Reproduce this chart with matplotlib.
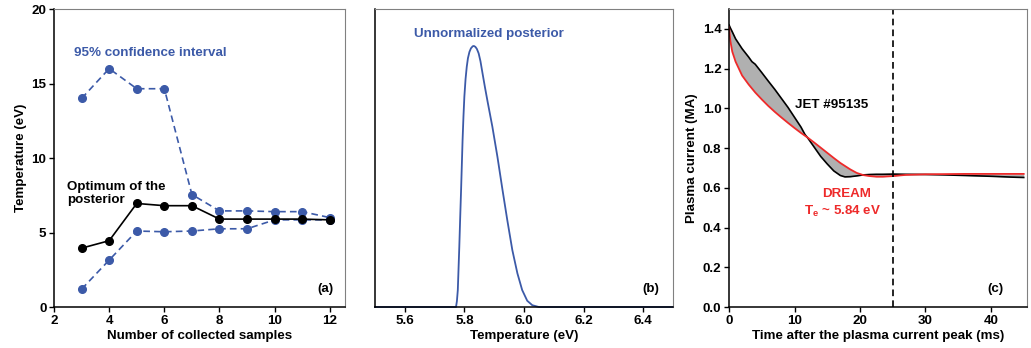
import numpy as np
import matplotlib
matplotlib.use("Agg")
import matplotlib.pyplot as plt

# =========================
# DADOS
# =========================
n_samples = [3, 4, 5, 6, 7, 8, 9, 10, 11, 12]
ci_upper = [14.0, 16.0, 14.65, 14.65, 7.55, 6.45, 6.45, 6.4, 6.4, 6.0]
optimum = [3.95, 4.45, 6.95, 6.8, 6.8, 5.9, 5.9, 5.9, 5.9, 5.85]
ci_lower = [1.2, 3.15, 5.1, 5.05, 5.1, 5.25, 5.25, 5.85, 5.85, 5.85]

# posterior (unidades arbitrárias)
temp_post = [5.5, 5.772, 5.775, 5.778, 5.783, 5.786, 5.789, 5.794, 5.797, 5.800,
             5.804, 5.808, 5.812, 5.817, 5.822, 5.828, 5.832, 5.837, 5.842,
             5.848, 5.854, 5.861, 5.869, 5.878, 5.894, 5.911, 5.928, 5.944,
             5.961, 5.978, 5.994, 6.011, 6.028, 6.05, 6.5]
posterior = [0.0, 0.0, 0.02, 0.057, 0.202, 0.30, 0.393, 0.56, 0.64, 0.706,
             0.765, 0.806, 0.835, 0.856, 0.868, 0.875, 0.876, 0.873, 0.866,
             0.851, 0.825, 0.784, 0.738, 0.689, 0.605, 0.504, 0.393, 0.292,
             0.191, 0.113, 0.057, 0.021, 0.006, 0.0, 0.0]

# corrente de plasma
t_ms = [0, 0.2, 0.5, 1, 2, 3, 3.5, 4, 5, 6, 7, 8, 9, 10, 11, 11.6, 12, 13, 14,
        15, 16, 17, 17.7, 18.5, 19.5, 20.5, 21.5, 22.5, 23.5, 25, 27, 30, 33,
        36, 40, 43, 45]
ip_jet = [1.42, 1.405, 1.385, 1.35, 1.30, 1.258, 1.235, 1.222, 1.18, 1.137,
          1.095, 1.05, 1.005, 0.955, 0.905, 0.868, 0.852, 0.805, 0.758, 0.72,
          0.685, 0.662, 0.655, 0.656, 0.66, 0.665, 0.667, 0.668, 0.668, 0.669,
          0.668, 0.667, 0.665, 0.662, 0.658, 0.654, 0.652]
ip_dream = [1.41, 1.34, 1.285, 1.235, 1.165, 1.12, 1.10, 1.08, 1.045, 1.012,
            0.982, 0.954, 0.927, 0.901, 0.876, 0.862, 0.853, 0.828, 0.802, 0.776,
            0.75, 0.725, 0.71, 0.693, 0.675, 0.664, 0.659, 0.656, 0.656, 0.659,
            0.665, 0.668, 0.669, 0.67, 0.67, 0.67, 0.67]
t_peak_line = 25

# =========================
# ESTILO
# =========================
FS = 9.6
plt.rcParams.update({
    "font.family": "Liberation Sans",
    "font.weight": "bold",
    "font.size": FS,
    "axes.labelweight": "bold",
    "axes.labelsize": FS,
    "xtick.labelsize": FS,
    "ytick.labelsize": FS,
    "mathtext.fontset": "custom",
    "mathtext.rm": "Liberation Sans:bold",
    "mathtext.bf": "Liberation Sans:bold",
    "mathtext.default": "bf",
})

BLUE = "#3c5aa8"
RED = "#ee2a2a"
GRAY_SPINE = "#808080"

fig = plt.figure(figsize=(10.31, 3.48), dpi=100)
ax_a = fig.add_axes([0.0524, 0.1178, 0.2822, 0.8563])
ax_b = fig.add_axes([0.3637, 0.1178, 0.2890, 0.8563])
ax_c = fig.add_axes([0.7071, 0.1178, 0.2890, 0.8563])

for ax in (ax_a, ax_b, ax_c):
    ax.spines["top"].set_color(GRAY_SPINE)
    ax.spines["right"].set_color(GRAY_SPINE)
    ax.tick_params(direction="out", length=3.5, width=1, pad=2)
    for s in ("left", "bottom"):
        ax.spines[s].set_linewidth(1.1)

# =========================
# (a)
# =========================
ax_a.plot(n_samples, ci_upper, "--o", color=BLUE, lw=1.2, ms=5.5, dashes=(4, 2.5))
ax_a.plot(n_samples, ci_lower, "--o", color=BLUE, lw=1.2, ms=5.5, dashes=(4, 2.5))
ax_a.plot(n_samples, optimum, "-o", color="black", lw=1.2, ms=5.5)
ax_a.set_xlim(2, 12.55)
ax_a.set_ylim(0, 20)
ax_a.set_xticks(np.arange(2, 13, 2))
ax_a.set_yticks(np.arange(0, 21, 5))
ax_a.set_xlabel("Number of collected samples", labelpad=2.5)
ax_a.set_ylabel("Temperature (eV)", labelpad=3)
ax_a.text(2.72, 17.07, "95% confidence interval", color=BLUE, fontweight="bold",
          va="center", ha="left")
ax_a.text(2.46, 7.6, "Optimum of the\nposterior", color="black", fontweight="bold",
          va="center", ha="left", linespacing=1.15)
ax_a.text(0.959, 0.06, "(a)", transform=ax_a.transAxes, ha="right", va="center",
          fontweight="bold")

# =========================
# (b)
# =========================
ax_b.plot(temp_post, posterior, color=BLUE, lw=1.3, clip_on=False)
ax_b.set_xlim(5.5, 6.5)
ax_b.set_ylim(0, 1)
ax_b.set_xticks([5.6, 5.8, 6.0, 6.2, 6.4])
ax_b.set_xticklabels(["5.6", "5.8", "6.0", "6.2", "6.4"])
ax_b.set_yticks([])
ax_b.set_xlabel("Temperature (eV)", labelpad=2.5)
ax_b.text(5.63, 0.915, "Unnormalized posterior", color=BLUE, fontweight="bold",
          va="center", ha="left")
ax_b.text(0.953, 0.06, "(b)", transform=ax_b.transAxes, ha="right", va="center",
          fontweight="bold")

# =========================
# (c)
# =========================
ax_c.fill_between(t_ms, ip_jet, ip_dream, color="#b0b0b0", lw=0)
ax_c.plot(t_ms, ip_jet, color="black", lw=1.2)
ax_c.plot(t_ms, ip_dream, color=RED, lw=1.3)
ax_c.axvline(t_peak_line, color="black", lw=1.2, dashes=(4, 2.5))
ax_c.set_xlim(0, 45.5)
ax_c.set_ylim(0, 1.5)
ax_c.set_xticks([0, 10, 20, 30, 40])
ax_c.set_yticks(np.arange(0, 1.41, 0.2))
ax_c.set_yticklabels([f"{v:.1f}" for v in np.arange(0, 1.41, 0.2)])
ax_c.set_xlabel("Time after the plasma current peak (ms)", labelpad=2.5)
ax_c.set_ylabel("Plasma current (MA)", labelpad=3)
ax_c.text(10.1, 1.016, "JET #95135", color="black", fontweight="bold",
          va="center", ha="left")
ax_c.text(17.9, 0.569, "DREAM", color=RED, fontweight="bold", va="center", ha="center")
ax_c.text(17.4, 0.48, r"T$_e$ ~ 5.84 eV", color=RED, fontweight="bold",
          va="center", ha="center")
ax_c.text(0.92, 0.06, "(c)", transform=ax_c.transAxes, ha="right", va="center",
          fontweight="bold")

fig.savefig("out.png", dpi=100)
